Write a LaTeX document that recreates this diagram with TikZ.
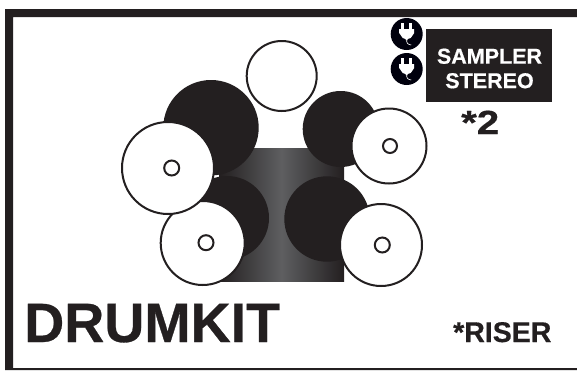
\documentclass[tikz,border=0pt]{standalone}
\usepackage{fontspec}
\setmainfont{Liberation Sans}[BoldFeatures={FakeBold=0.5}]
\definecolor{ink}{HTML}{231F20}
\definecolor{sheen}{HTML}{5E5F61}
\tikzset{
  x=1pt,y=-1pt,
  shell/.style={circle,fill=ink,inner sep=0pt,minimum size=#1},
  cymbal/.style={circle,fill=white,draw=ink,line width=2pt,inner sep=0pt,outer sep=0pt,minimum size=#1},
  hole/.style={circle,fill=white,draw=ink,line width=2pt,inner sep=0pt,minimum size=15pt},
  plugdisc/.style={circle,fill=black!95!blue,inner sep=0pt,minimum size=32pt},
  label/.style={inner sep=0pt,anchor=base west,text=ink,font=\bfseries},
  plugicon/.pic={
    \fill[white] (-5.5,-11) rectangle (-2.5,-4);
    \fill[white] (2.5,-11) rectangle (5.5,-4);
    \fill[white] (-7.5,-5) -- (7.5,-5) -- (7.5,-1) -- (4,4) -- (1,5) -- (1,6) -- (-1,6) -- (-1,5) -- (-4,4) -- (-7.5,-1) -- cycle;
    \draw[white,line width=.6pt] (0,5) .. controls (-.5,9) and (1,10.5) .. (4.5,11);
  }
}
\begin{document}
\begin{tikzpicture}
\useasboundingbox (0,0) rectangle (577,370);
\fill[white] (0,0) rectangle (577,370);
% frame
\fill[ink] (5,370) -- (5,9) -- (577,9) -- (577,17) -- (13,17) -- (13,368) -- (577,368) -- (577,370) -- cycle;
% riser
\path[left color=ink,right color=ink,middle color=sheen,shading angle=90] (219,148) rectangle (344,281);
\node[shell=95.4pt] (crash) at (211,127.7) {};
\node[shell=76pt] (ride) at (340.7,129) {};
\node[shell=84pt] (tomL) at (227,218) {};
\node[shell=85.4pt] (tomR) at (327,219) {};
\node[cymbal=70pt] (top) at (281.7,76) {};
\node[cymbal=84pt] (cymBL) at (202.7,243) {};
\node[hole] (holeBL) at (206,242.7) {};
\node[cymbal=92pt] (cymL) at (168,168) {};
\node[hole] (holeL) at (171.7,168) {};
\node[cymbal=75pt] (cymR) at (389,146) {};
\node[hole,minimum size=14pt] (holeR) at (390,146) {};
\node[cymbal=82pt] (cymBR) at (381,245) {};
\node[hole] (holeBR) at (382.3,245) {};
% sampler
\node[fill=ink,inner sep=0pt,minimum width=126pt,minimum height=73pt] (sampler) at (489,65.5) {};
\node[inner sep=0pt,text=white,font=\bfseries\fontsize{21.5}{24.5}\selectfont,align=center] (samplertext) at (489.5,68.5) {SAMPLER\\STEREO};
\node[plugdisc] (plugA) at (406.7,34) {};
\node[plugdisc] (plugB) at (406.7,69) {};
\pic at (plugA) {plugicon};
\pic at (plugB) {plugicon};
% labels
\node[label,font=\bfseries\fontsize{33.5}{33.5}\selectfont] (two) at (461,134) {\scalebox{1.2}[1]{*2}};
\node[label,font=\bfseries\fontsize{55.5}{55.5}\selectfont] (title) at (24,342) {DRUMKIT};
\node[label,font=\bfseries\fontsize{28.5}{28.5}\selectfont] (riser) at (453,342) {*RISER};
\end{tikzpicture}
\end{document}
